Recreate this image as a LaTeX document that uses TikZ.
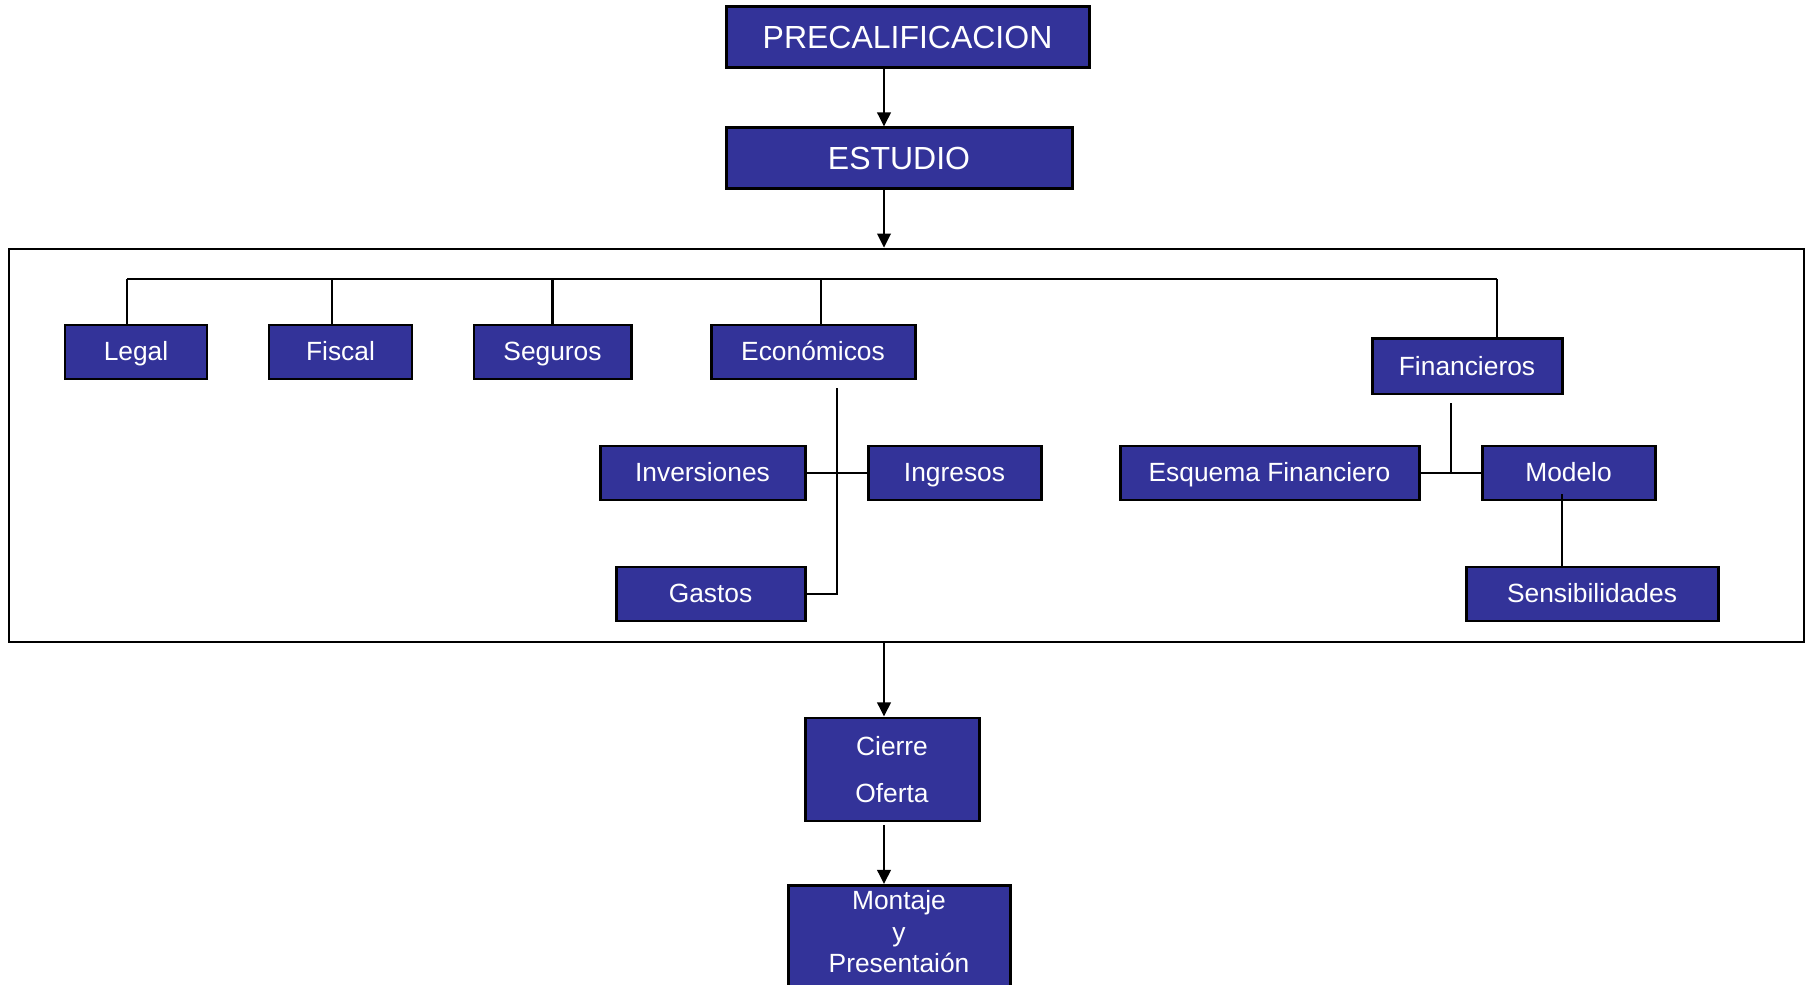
\documentclass[tikz,border=0pt]{standalone}
\usepackage{fontspec}
\setmainfont{Liberation Sans}
\usetikzlibrary{arrows.meta}
\definecolor{azulcaja}{RGB}{51,51,153}
\tikzset{
  caja/.style={draw=black, line width=0.85pt, fill=azulcaja, text=white,
    font=\fontsize{7.5}{9}\selectfont, inner sep=0pt, minimum height=0.54cm,
    text height=0.75em, text depth=0.25em},
  titulo/.style={caja, font=\fontsize{9.1}{11}\selectfont, minimum height=0.61cm,
    text height=0.88em},
  conn/.style={line width=0.75pt},
  flecha/.style={conn, -{Triangle[width=3.8pt,length=4pt]}}
}
\begin{document}
\begin{tikzpicture}
   \clip (0,0) rectangle (18.10,-9.85);
   \coordinate (eje) at (8.84,0);

   % Cabecera
   \node[titulo, minimum width=3.63cm] (prec) at (9.075,-0.375) {PRECALIFICACION};
   \node[titulo, minimum width=3.46cm] (est) at (8.99,-1.585) {ESTUDIO};

   % Marco del estudio
   \node[draw, conn, minimum width=17.95cm, minimum height=3.93cm] (marco) at (9.065,-4.455) {};
   \coordinate (barra) at (0,-2.79);

   % Primer nivel
   \node[caja, minimum width=1.42cm] (legal) at (1.36,-3.52) {Legal};
   \node[caja, minimum width=1.43cm] (fiscal) at (3.405,-3.52) {Fiscal};
   \node[caja, minimum width=1.57cm] (seguros) at (5.525,-3.52) {Seguros};
   \node[caja, minimum width=2.04cm] (econ) at (8.13,-3.52) {Económicos};
   \node[caja, minimum width=1.90cm, minimum height=0.55cm] (finan) at (14.67,-3.665) {Financieros};

   % Segundo nivel
   \node[caja, minimum width=2.05cm] (inv) at (7.025,-4.73) {Inversiones};
   \node[caja, minimum width=1.73cm] (ing) at (9.545,-4.73) {Ingresos};
   \node[caja, minimum width=1.89cm] (gastos) at (7.105,-5.94) {Gastos};
   \node[caja, minimum width=2.99cm] (esq) at (12.695,-4.73) {Esquema Financiero};
   \node[caja, minimum width=1.73cm] (modelo) at (15.685,-4.73) {Modelo};
   \node[caja, minimum width=2.52cm] (sens) at (15.92,-5.94) {Sensibilidades};

   % Cierre
   \node[caja, align=center, text height={}, text depth={}, minimum width=1.74cm, minimum height=1.03cm] (cierre) at (8.92,-7.695) {Cierre\\[4.4pt]Oferta};
   \node[caja, align=center, text height={}, text depth={}, anchor=north, minimum width=2.22cm, inner ysep=0.05cm] (montaje) at (8.99,-8.84) {Montaje\\y\\Presentaión\\[0.5cm]};

   % Flechas principales
   \draw[flecha] (prec.south -| eje) -- (est.north -| eje);
   \draw[flecha] (est.south -| eje) -- (marco.north -| eje);
   \draw[flecha] (marco.south -| eje) -- (cierre.north -| eje);
   \draw[flecha] ([yshift=-0.03cm]cierre.south -| eje) -- (montaje.north -| eje);

   % Barra superior y bajadas
   \draw[conn] ([xshift=-0.09cm]legal.north |- barra) -- ([xshift=0.3cm]finan.north |- barra);
   \foreach \n/\dx in {legal/-0.09, fiscal/-0.085, seguros/0, econ/0.08, finan/0.3} {
      \draw[conn] ([xshift=\dx cm]\n.north) -- ([xshift=\dx cm]\n.north |- barra);
   }

   % Ramas de Económicos
   \coordinate (etronco) at ([xshift=0.24cm,yshift=-0.08cm]econ.south);
   \draw[conn] (etronco) |- (gastos.east);
   \draw[conn] (inv.east) -- (ing.west);

   % Ramas de Financieros
   \coordinate (ftronco) at ([xshift=-0.16cm,yshift=-0.08cm]finan.south);
   \draw[conn] (ftronco) -- (ftronco |- esq.east);
   \draw[conn] (esq.east) -- (modelo.west);
   \draw[conn] ([xshift=-0.065cm,yshift=0.07cm]modelo.south) -- ([xshift=-0.065cm]modelo.south |- sens.north);
\end{tikzpicture}
\end{document}
